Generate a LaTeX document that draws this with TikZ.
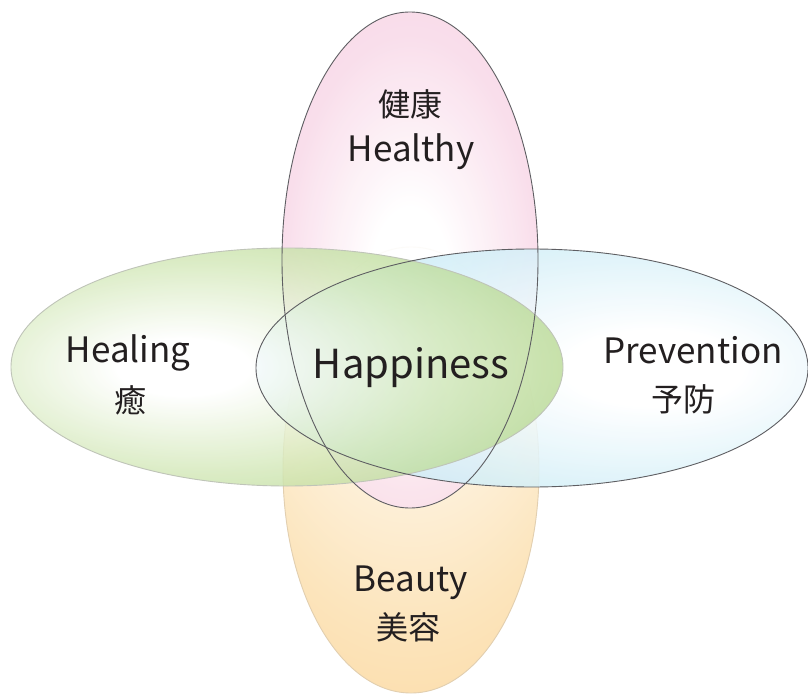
\documentclass[tikz,border=0pt]{standalone}
\usepackage{fontspec}
\setmainfont{Noto Sans CJK JP}

\definecolor{ink}{HTML}{231F20}
\definecolor{rimgrey}{HTML}{5E5E62}
\definecolor{rimsoft}{HTML}{BFC4B8}
\definecolor{rimtan}{HTML}{E2CFB0}
\definecolor{pinkA}{HTML}{F9DCEA}
\definecolor{pinkB}{HTML}{F5CDE1}
\definecolor{pinkC}{HTML}{F1BDD7}
\definecolor{greenA}{HTML}{D3E8B8}
\definecolor{greenB}{HTML}{AAD180}
\definecolor{greenC}{HTML}{76B54E}
\definecolor{blueA}{HTML}{D8F1F9}
\definecolor{blueB}{HTML}{BCE4F2}
\definecolor{blueC}{HTML}{9DD5EA}
\definecolor{orangeA}{HTML}{FCE5BD}
\definecolor{orangeB}{HTML}{FAD08E}
\definecolor{orangeC}{HTML}{F6BA5E}

% soft glows, white spot shifted towards the middle of the picture
\pgfdeclareradialshading{pinkglow}{\pgfpoint{0bp}{-3bp}}{%
  color(0bp)=(white); color(8bp)=(white); color(25bp)=(pinkA);
  color(50bp)=(pinkB); color(65bp)=(pinkC); color(100bp)=(pinkC)}
\pgfdeclareradialshading{greenglow}{\pgfpoint{-10bp}{0bp}}{%
  color(0bp)=(white); color(6bp)=(white); color(22bp)=(greenA);
  color(38bp)=(greenB); color(58bp)=(greenC); color(100bp)=(greenC)}
\pgfdeclareradialshading{blueglow}{\pgfpoint{12bp}{0bp}}{%
  color(0bp)=(white); color(8bp)=(white); color(25bp)=(blueA);
  color(40bp)=(blueB); color(62bp)=(blueC); color(100bp)=(blueC)}
\pgfdeclareradialshading{orangeglow}{\pgfpoint{0bp}{38bp}}{%
  color(0bp)=(white); color(15bp)=(white); color(40bp)=(orangeA);
  color(63bp)=(orangeB); color(88bp)=(orangeC); color(100bp)=(orangeC)}

\tikzset{
  word/.style={font=\fontsize{35}{40}\selectfont, text=ink, inner sep=0pt, anchor=base},
  bigword/.style={word, font=\fontsize{40}{46}\selectfont},
  kanji/.style={font=\fontsize{32}{36}\selectfont, text=ink, inner sep=0pt},
  rimdark/.style={draw=rimgrey, line width=0.9pt},
  rimlight/.style={draw=rimsoft, line width=0.9pt},
}

\begin{document}
\begin{tikzpicture}[x=1pt,y=-1pt]
  % Page
  \useasboundingbox[fill=white] (0,0) rectangle (808,695);
  % Centres of the four ellipses
  \coordinate (beautyc) at (411,470);
  \coordinate (healthc) at (410,260);
  \coordinate (preventc) at (532,368);
  \coordinate (healingc) at (287,367);
  % Fill the ellipses
  \shadedraw[shading=orangeglow, draw=rimtan, line width=0.9pt] (beautyc) ellipse [x radius=128pt, y radius=223pt];
  \shade[shading=pinkglow, fill opacity=0.92] (healthc) ellipse [x radius=128pt, y radius=248pt];
  \shade[shading=blueglow, fill opacity=0.85] (preventc) ellipse [x radius=276pt, y radius=119pt];
  \shade[shading=greenglow, fill opacity=0.8] (healingc) ellipse [x radius=276pt, y radius=119pt];
  % Draw outlines
  \draw[rimlight] (healingc) ellipse [x radius=276pt, y radius=119pt];
  \draw[rimdark] (healthc) ellipse [x radius=128pt, y radius=248pt];
  \draw[rimdark] (preventc) ellipse [x radius=276pt, y radius=119pt];
  % Draw text
  \node[kanji] (kenko) at (410,104) {健康};
  \node[word] (healthy) at (411,162) {Healthy};
  \node[word] (healing) at (128,362) {Healing};
  \node[kanji] (iyashi) at (130,400) {癒};
  \node[word] (prevention) at (693,363) {Prevention};
  \node[kanji] (yobo) at (683,399) {予防};
  \node[word] (beauty) at (411,591) {Beauty};
  \node[kanji] (biyo) at (408,627) {美容};
  \node[bigword] (happiness) at (411,378) {Happiness};
\end{tikzpicture}
\end{document}
